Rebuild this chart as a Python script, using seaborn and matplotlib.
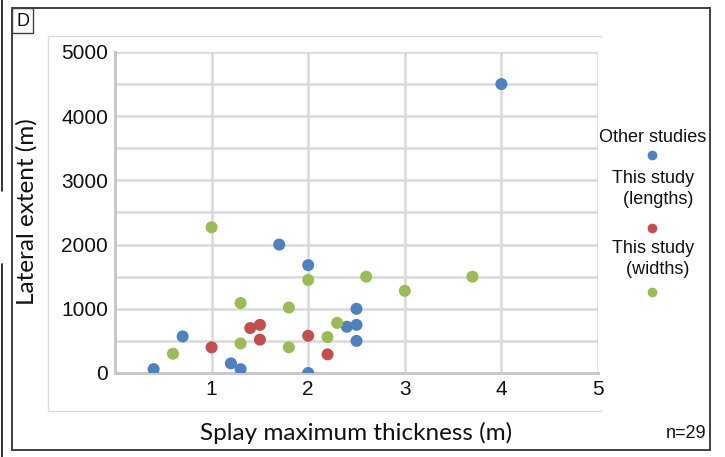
import matplotlib
matplotlib.use("Agg")
import matplotlib.pyplot as plt
from matplotlib.patches import Rectangle
from matplotlib.lines import Line2D
from matplotlib.ticker import MultipleLocator
import pandas as pd
import seaborn as sns

# Splay thickness (m) vs lateral extent (m)
other_thickness = [0.4, 0.7, 1.2, 1.3, 1.7, 2.0, 2.0, 2.4, 2.5, 2.5, 2.5, 4.0]
other_extent = [60, 570, 150, 60, 2000, 1680, 0, 720, 1000, 750, 500, 4500]

length_thickness = [1.0, 1.4, 1.5, 1.5, 2.0, 2.2]
length_extent = [400, 700, 750, 520, 580, 290]

width_thickness = [0.6, 1.0, 1.3, 1.3, 1.8, 1.8, 2.0, 2.2, 2.3, 2.6, 3.0, 3.7]
width_extent = [300, 2270, 1090, 460, 1020, 400, 1450, 560, 780, 1500, 1280, 1500]

groups = ["Other studies", "This study\n  (lengths)", "This study\n  (widths)"]
colors = ["#4F81BD", "#C0504D", "#9BBB59"]
x_ticks = [1, 2, 3, 4, 5]
y_ticks = [0, 1000, 2000, 3000, 4000, 5000]

df = pd.concat([
    pd.DataFrame({"thickness": other_thickness, "extent": other_extent, "group": groups[0]}),
    pd.DataFrame({"thickness": length_thickness, "extent": length_extent, "group": groups[1]}),
    pd.DataFrame({"thickness": width_thickness, "extent": width_extent, "group": groups[2]}),
], ignore_index=True)

sns.set_style("white")
plt.rcParams["font.family"] = ["Liberation Sans", "DejaVu Sans"]

W, H = 725, 457
fig = plt.figure(figsize=(7.25, 4.57), dpi=100)
ax = fig.add_axes([115 / W, 1 - 373 / H, (598 - 115) / W, (373 - 52) / H])


def fx(px):
    return px / W


def fy(py):
    return 1 - py / H


def fig_line(xs, ys, color, lw):
    fig.add_artist(Line2D([fx(v) for v in xs], [fy(v) for v in ys], color=color, lw=lw,
                          transform=fig.transFigure))


# frame of the panel
fig.add_artist(Rectangle((fx(12), fy(450)), fx(710) - fx(12), fy(8) - fy(450),
                         fill=False, edgecolor="#404040", lw=1.4, transform=fig.transFigure))
fig.add_artist(Rectangle((fx(12), fy(33)), fx(33) - fx(12), fy(8) - fy(33),
                         fill=False, edgecolor="#404040", lw=1.0, transform=fig.transFigure))
fig.text(fx(22.5), fy(21), "D", ha="center", va="center", fontsize=13, color="#111111")
# light chart-area outline (open on the right)
fig_line([601, 48, 48, 601], [36, 36, 411, 411], "#d9d9d9", 1.0)
# edge of the neighbouring panel
fig_line([2, 2], [0, 191], "#111111", 1.2)
fig_line([2, 2], [264, 457], "#111111", 1.2)

sns.scatterplot(data=df, x="thickness", y="extent", hue="group", hue_order=groups,
                palette=colors, s=75, edgecolor="none", legend=False, ax=ax, zorder=3)

ax.set_xlim(0, 5)
ax.set_ylim(0, 5000)
ax.set_xticks(x_ticks)
ax.set_yticks(y_ticks)
ax.yaxis.set_minor_locator(MultipleLocator(500))
ax.grid(True, which="both", color="#d9d9d9", lw=1.8, zorder=0)
ax.set_axisbelow(True)
ax.tick_params(axis="both", which="both", length=0, labelsize=15, colors="#111111", pad=5)
for side in ["top", "right"]:
    ax.spines[side].set_visible(False)
for side in ["left", "bottom"]:
    ax.spines[side].set_color("#c8c8c8")
    ax.spines[side].set_linewidth(2.2)
ax.set_xlabel("")
ax.set_ylabel("")

label_font = ["Lato", "DejaVu Sans"]
fig.text(fx(356), fy(433), "Splay maximum thickness (m)", ha="center", va="center",
         fontsize=17.5, family=label_font, color="#111111")
fig.text(fx(27), fy(212), "Lateral extent (m)", ha="center", va="center", rotation=90,
         fontsize=17.5, family=label_font, color="#111111")
fig.text(fx(706), fy(433), "n=29", ha="right", va="center", fontsize=13, color="#111111")

# legend: label above each marker
legend_text_y = [137, 189, 259]
legend_marker_y = [155, 228, 292]
for name, col, ty, my in zip(groups, colors, legend_text_y, legend_marker_y):
    fig.text(fx(653), fy(ty), name, ha="center", va="center", fontsize=13,
             color="#111111", linespacing=1.35)
    fig.add_artist(Line2D([fx(652)], [fy(my)], marker="o", markersize=7, color=col,
                          markeredgewidth=0, transform=fig.transFigure))

fig.savefig("out.png", dpi=100)
